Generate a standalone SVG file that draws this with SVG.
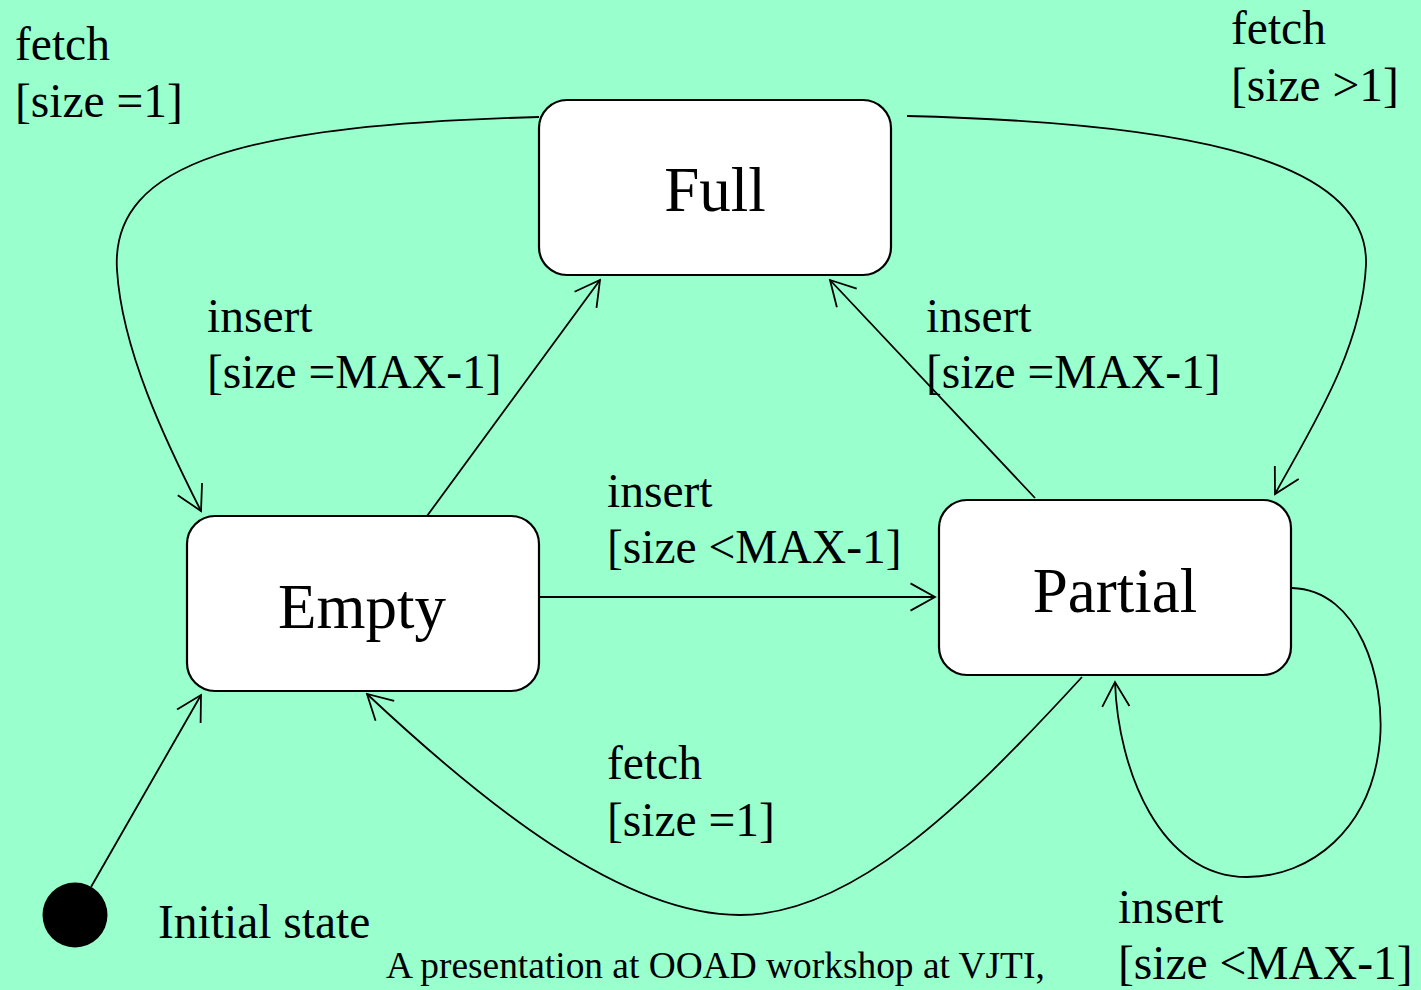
<svg xmlns="http://www.w3.org/2000/svg" width="1421" height="990" viewBox="0 0 1421 990">
<defs>
<style>
.node rect{fill:#ffffff;stroke:#000000;stroke-width:2.2}
.name{font-family:"Liberation Serif","Times New Roman",serif;font-size:63px;fill:#000;text-anchor:middle}
.lbl{font-family:"Liberation Serif","Times New Roman",serif;font-size:47.5px;fill:#000}
.foot{font-family:"Liberation Serif","Times New Roman",serif;font-size:37.4px;fill:#000}
.edge{fill:none;stroke:#000;stroke-width:1.8;marker-end:url(#arr)}
</style>
<marker id="arr" markerUnits="userSpaceOnUse" viewBox="-30 -16 32 32" refX="0" refY="0" markerWidth="32" markerHeight="32" orient="auto">
<path d="M-24.5,-13.6 L0,0 L-24.5,13.6" fill="none" stroke="#000" stroke-width="1.8"/>
</marker>
</defs>
<rect x="0" y="0" width="1421" height="990" fill="#99FFCC"/>

<g id="connectors">
<path class="edge" d="M91,887 L201,695"/>
<path class="edge" d="M427,516 L600,280"/>
<path class="edge" d="M1035,498 L830,280"/>
<path class="edge" d="M539,597 L935,597"/>
<path class="edge" d="M539,117 C250,125 110,160 117,270 C122,350 165,440 201,511"/>
<path class="edge" d="M907,116 C1150,122 1370,150 1366,265 C1362,350 1310,430 1275,494"/>
<path class="edge" d="M1082,677 C960,810 850,915 740,915 C620,915 480,800 367,694"/>
<path class="edge" d="M1292,588 C1360,590 1385,680 1380,740 C1372,830 1310,877 1247,877 C1160,877 1118,770 1115,682"/>
</g>

<g id="initial">
<circle cx="75" cy="915" r="32.5" fill="#000"/>
<text class="lbl" x="158" y="938">Initial state</text>
</g>

<g id="full" class="node">
<rect x="539" y="100" width="352" height="175" rx="28" ry="28"/>
<text class="name" x="715" y="211">Full</text>
</g>
<g id="empty" class="node">
<rect x="187" y="516" width="352" height="175" rx="28" ry="28"/>
<text class="name" x="362" y="628">Empty</text>
</g>
<g id="partial" class="node">
<rect x="939" y="500" width="352" height="175" rx="28" ry="28"/>
<text class="name" x="1115" y="612">Partial</text>
</g>

<g id="labels">
<text class="lbl" x="15" y="60">fetch</text>
<text class="lbl" x="15" y="117">[size =1]</text>
<text class="lbl" x="1231" y="44">fetch</text>
<text class="lbl" x="1231" y="101">[size &gt;1]</text>
<text class="lbl" x="207" y="332">insert</text>
<text class="lbl" x="207" y="388">[size =MAX-1]</text>
<text class="lbl" x="926" y="332">insert</text>
<text class="lbl" x="926" y="388">[size =MAX-1]</text>
<text class="lbl" x="607" y="507">insert</text>
<text class="lbl" x="607" y="563">[size &lt;MAX-1]</text>
<text class="lbl" x="607" y="779">fetch</text>
<text class="lbl" x="607" y="836">[size =1]</text>
<text class="lbl" x="1118" y="923">insert</text>
<text class="lbl" x="1118" y="979">[size &lt;MAX-1]</text>
</g>

<text class="foot" x="386" y="978">A presentation at OOAD workshop at VJTI,</text>
</svg>
